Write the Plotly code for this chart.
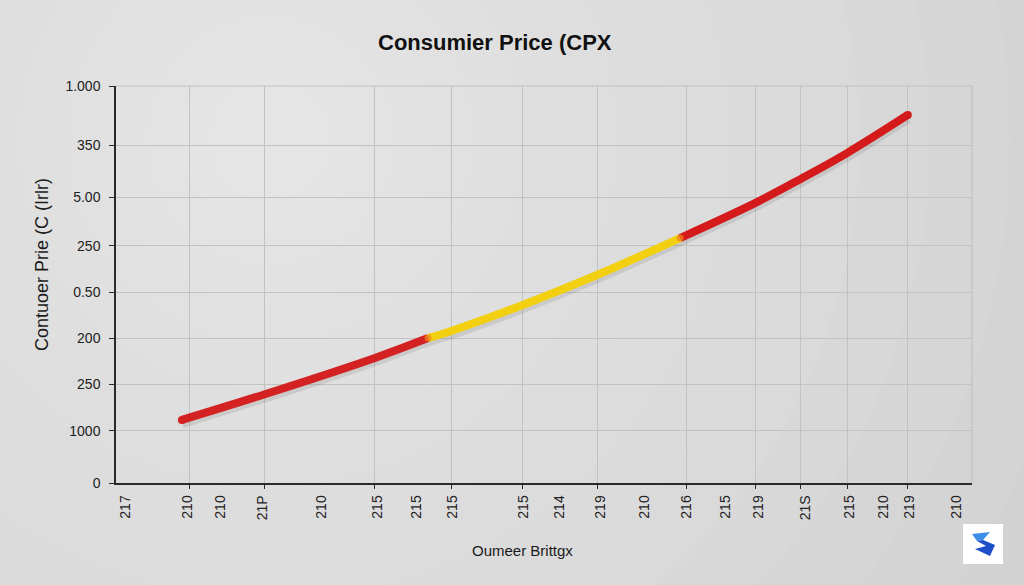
import plotly.graph_objects as go

# ---------------- data ----------------
x_vals = [1.54, 3.46, 6.05, 7.29, 7.83, 9.49, 11.24, 13.18, 14.93, 16.0, 17.08, 18.5]
y_vals = [159, 223, 315, 365, 383, 448, 524, 617, 705, 766, 831, 927]
seg_colors = ["#d42222", "#f2d010", "#d41a1a"]
seg_bounds = [(0, 3), (3, 7), (7, 11)]

x_tick_pos = [0.21, 1.68, 2.43, 3.43, 4.79, 6.12, 7.01, 7.87, 9.51, 10.37,
              11.33, 12.34, 13.34, 14.23, 15.02, 16.10, 17.13, 17.92, 18.53, 19.63]
x_tick_text = ["217", "210", "210", "21P", "210", "215", "215", "215", "215", "214",
               "219", "210", "216", "215", "219", "21S", "215", "210", "219", "210"]
x_grid_pos = [1.71, 3.46, 6.05, 7.83, 9.49, 11.24, 13.32, 14.93, 16.0, 17.08, 18.5]

y_tick_pos = [0, 131, 249, 365, 481, 597, 720, 851, 1000]
y_tick_text = ["0", "1000", "250", "200", "0.50", "250", "5.00", "350", "1.000"]

title_text = "Consumier Price (CPX"
y_title = "Contuoer Prie (C (Irlr)"
x_title = "Oumeer Brittgx"

# ---------------- layout helpers ----------------
L, R, T, B = 116, 972, 86, 483
def px(xp):
    return (xp - L) / (R - L)
def py(yp):
    return (B - yp) / (B - T)

fig = go.Figure()

# shadow under the line
fig.add_trace(go.Scatter(x=x_vals, y=[v - 7 for v in y_vals], mode="lines",
                         line=dict(color="rgba(0,0,0,0.09)", width=11, shape="spline"),
                         hoverinfo="skip", showlegend=False))

for (a, b), c in zip(seg_bounds, seg_colors):
    xs = x_vals[a:b + 1]
    ys = y_vals[a:b + 1]
    fig.add_trace(go.Scatter(x=xs, y=ys, mode="lines",
                             line=dict(color=c, width=8, shape="spline"),
                             hoverinfo="skip", showlegend=False))

# round caps at ends and blended joints
fig.add_trace(go.Scatter(x=[x_vals[0], x_vals[-1]], y=[y_vals[0], y_vals[-1]], mode="markers",
                         marker=dict(color=[seg_colors[0], seg_colors[2]], size=8, line=dict(width=0)),
                         hoverinfo="skip", showlegend=False))
fig.add_trace(go.Scatter(x=[x_vals[3], x_vals[7]], y=[y_vals[3], y_vals[7]], mode="markers",
                         marker=dict(color="#f2801c", size=7, opacity=0.75, line=dict(width=0)),
                         hoverinfo="skip", showlegend=False))

# invisible trace for the grid axis
fig.add_trace(go.Scatter(x=[0], y=[0], xaxis="x2", mode="markers",
                         marker=dict(size=0.1, opacity=0), hoverinfo="skip", showlegend=False))

shapes = []
# background glow (soft radial light at upper left)
cx, cy = 270, 140
radii = [820, 740, 660, 590, 520, 460, 400, 345, 295, 250, 205, 165, 125, 90, 60]
for r in radii:
    shapes.append(dict(type="circle", xref="paper", yref="paper", layer="below",
                       x0=px(cx - r), x1=px(cx + r), y0=py(cy + r), y1=py(cy - r),
                       fillcolor="rgba(255,255,255,0.05)", line=dict(width=0)))
# right and top border of plot
shapes.append(dict(type="line", xref="paper", yref="paper", x0=1, x1=1, y0=0, y1=1,
                   line=dict(color="#c2c2c2", width=1.2)))
shapes.append(dict(type="line", xref="paper", yref="paper", x0=0, x1=1, y0=1, y1=1,
                   line=dict(color="#c2c2c2", width=1.2)))
# logo
shapes.append(dict(type="rect", xref="paper", yref="paper",
                   x0=px(963), x1=px(1003), y0=py(564), y1=py(524),
                   fillcolor="white", line=dict(width=0)))
def path(pts):
    return "M " + " L ".join(f"{px(a):.4f},{py(b):.4f}" for a, b in pts) + " Z"
shapes.append(dict(type="path", xref="paper", yref="paper",
                   path=path([(972, 534), (990, 532), (983, 540), (977, 541)]),
                   fillcolor="#3d8ee8", line=dict(width=0)))
shapes.append(dict(type="path", xref="paper", yref="paper",
                   path=path([(977, 541), (983, 540), (995, 545), (990, 556), (975, 549), (986, 546)]),
                   fillcolor="#1f4fc8", line=dict(width=0)))

annotations = [
    dict(text=f"<b>{title_text}</b>", xref="paper", yref="paper", x=px(495), y=py(42),
         showarrow=False, font=dict(family="Liberation Sans", size=22, color="#111111"),
         xanchor="center", yanchor="middle"),
    dict(text=y_title, xref="paper", yref="paper", x=px(42), y=py(265), textangle=-90,
         showarrow=False, font=dict(family="Liberation Sans", size=18, color="#1a1a1a"),
         xanchor="center", yanchor="middle"),
    dict(text=x_title, xref="paper", yref="paper", x=px(522), y=py(550),
         showarrow=False, font=dict(family="Liberation Sans", size=15, color="#1a1a1a"),
         xanchor="center", yanchor="middle"),
]

fig.update_layout(
    width=1024, height=585,
    margin=dict(l=L, r=1024 - R, t=T, b=585 - B, pad=0),
    paper_bgcolor="#d2d2d2",
    plot_bgcolor="rgba(0,0,0,0)",
    showlegend=False,
    shapes=shapes,
    annotations=annotations,
    xaxis=dict(range=[0, 20], tickmode="array", tickvals=x_tick_pos, ticktext=x_tick_text,
               tickangle=-90, showgrid=False, zeroline=False, ticks="",
               showline=True, linecolor="#2a2a2a", linewidth=1.5,
               tickfont=dict(family="Liberation Sans", size=14, color="#222222"),
               ticklabelstandoff=5),
    xaxis2=dict(range=[0, 20], overlaying="x", anchor="y", side="bottom",
                tickmode="array", tickvals=x_grid_pos, showticklabels=False,
                showgrid=True, gridcolor="#c2c2c2", gridwidth=1, zeroline=False,
                ticks="outside", ticklen=5, tickcolor="#2a2a2a", tickwidth=1.2, showline=False),
    yaxis=dict(range=[0, 1000], tickmode="array", tickvals=y_tick_pos, ticktext=y_tick_text,
               showgrid=True, gridcolor="#c2c2c2", gridwidth=1, zeroline=False,
               ticks="outside", ticklen=5, tickcolor="#2a2a2a", tickwidth=1.2,
               showline=True, linecolor="#2a2a2a", linewidth=1.5,
               tickfont=dict(family="Liberation Sans", size=14, color="#222222"),
               ticklabelstandoff=6),
)

fig.write_html("out.html")
